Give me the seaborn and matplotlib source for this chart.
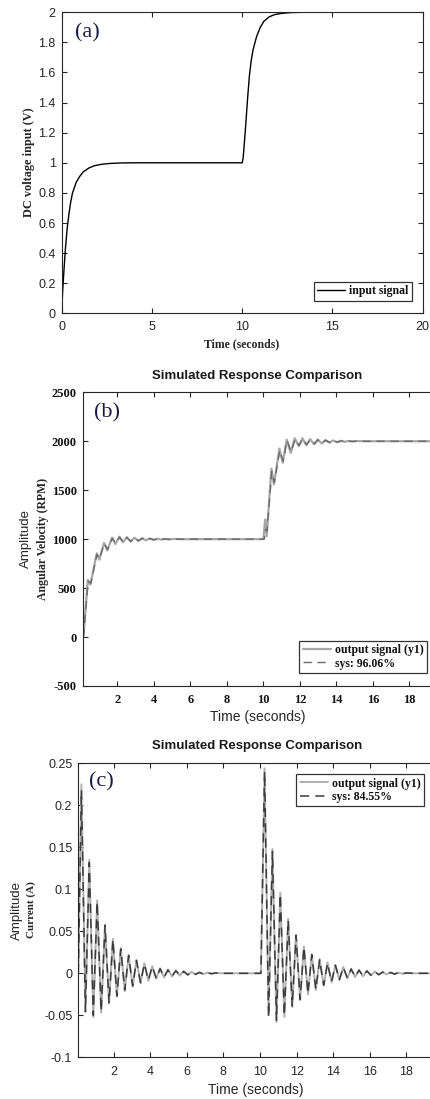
import numpy as np
import pandas as pd
import seaborn as sns
import matplotlib
matplotlib.use("Agg")
import matplotlib.pyplot as plt
from matplotlib.ticker import FuncFormatter

# ---- panel (a): DC voltage input ----
t_in = [0, 0.05, 0.1, 0.2, 0.3, 0.4, 0.5, 0.6, 0.8, 1.0, 1.2, 1.5, 1.8, 2.2, 2.7, 3.3, 4.0,
        10.0, 10.05, 10.1, 10.2, 10.3, 10.4, 10.5, 10.6, 10.8, 11.0, 11.2, 11.5, 11.8, 12.2,
        12.7, 13.3, 14.0, 20.0]
v_in = [0, 0.14, 0.24, 0.42, 0.56, 0.66, 0.74, 0.80, 0.87, 0.91, 0.94, 0.965, 0.98, 0.99,
        0.996, 0.999, 1.0,
        1.0, 1.03, 1.1, 1.26, 1.43, 1.58, 1.68, 1.75, 1.84, 1.9, 1.94, 1.97, 1.985, 1.993,
        1.998, 2.0, 2.0, 2.0]

# ---- panel (b): angular velocity ----
t_vel = [0.14, 0.38, 0.52, 0.87, 1.01, 1.27, 1.45, 1.71, 1.89, 2.11, 2.31, 2.51, 2.73, 2.93,
         3.15, 3.35, 3.56, 3.77, 3.98, 4.19, 4.40, 4.60, 4.81, 5.02, 5.5, 10.0,
         10.1, 10.18, 10.44, 10.58, 10.88, 11.06, 11.28, 11.5, 11.72, 11.94, 12.14, 12.35,
         12.56, 12.78, 12.98, 13.2, 13.4, 13.62, 13.82, 14.04, 14.24, 14.45, 14.66, 14.87,
         15.1, 15.6, 19.5]
vel_out = [0, 585, 535, 855, 790, 962, 885, 1015, 950, 1025, 968, 1020, 975, 1015,
           981, 1010, 988, 1007, 992, 1005, 995, 1003, 997, 1002, 1000, 1000,
           1200, 1030, 1720, 1560, 1925, 1780, 2017, 1881, 2030, 1950, 2030, 1960,
           2022, 1970, 2017, 1978, 2012, 1985, 2008, 1990, 2005, 1994, 2003, 1997,
           2002, 2000, 2000]
t_vel_sys = [0.14, 0.40, 0.55, 0.88, 1.02, 1.28, 1.46, 1.72, 1.9, 2.12, 2.32, 2.52, 2.74, 2.94,
             3.16, 3.36, 3.57, 3.78, 3.99, 4.2, 4.41, 4.61, 4.82, 5.03, 5.5, 10.05,
             10.12, 10.2, 10.46, 10.6, 10.9, 11.08, 11.3, 11.52, 11.74, 11.96, 12.16, 12.37,
             12.58, 12.8, 13.0, 13.22, 13.42, 13.64, 13.84, 14.06, 14.26, 14.47, 14.68, 14.89,
             15.12, 15.6, 19.5]
vel_sys = [0, 570, 550, 845, 800, 955, 895, 1010, 958, 1020, 972, 1016, 978, 1012,
           984, 1008, 990, 1006, 994, 1004, 996, 1002, 998, 1001, 1000, 1000,
           1100, 1080, 1690, 1580, 1905, 1800, 2005, 1895, 2020, 1958, 2024, 1965,
           2018, 1974, 2014, 1980, 2010, 1987, 2007, 1991, 2004, 1995, 2003, 1998,
           2001, 2000, 2000]

# ---- panel (c): current ----
t_cur = [0.07, 0.24, 0.46, 0.67, 0.89, 1.10, 1.32, 1.53, 1.75, 1.96,
         2.18, 2.39, 2.61, 2.82, 3.04, 3.25, 3.47, 3.68, 3.90, 4.11,
         4.33, 4.54, 4.76, 4.97, 5.19, 5.40, 5.62, 5.83, 6.05, 6.26,
         6.48, 6.69, 6.91, 7.12, 7.34, 7.55, 8.0, 10.05,
         10.25, 10.47, 10.68, 10.90, 11.11, 11.33, 11.54, 11.76, 11.97, 12.19,
         12.40, 12.62, 12.83, 13.05, 13.26, 13.48, 13.69, 13.91, 14.12, 14.34,
         14.55, 14.77, 14.98, 15.20, 15.41, 15.63, 15.84, 16.06, 16.27, 16.49,
         16.70, 16.92, 17.13, 17.35, 17.56, 17.78, 17.99, 18.4, 19.5]
cur_out = [0, 0.225, -0.044, 0.135, -0.052, 0.087, -0.047, 0.058, -0.036, 0.041,
           -0.028, 0.030, -0.021, 0.022, -0.016, 0.016, -0.012, 0.012, -0.009, 0.0085,
           -0.0065, 0.006, -0.005, 0.0045, -0.0038, 0.0035, -0.0028, 0.0025, -0.002, 0.0018,
           -0.0014, 0.0012, -0.001, 0.0008, -0.0006, 0.0004, 0, 0,
           0.244, -0.050, 0.148, -0.058, 0.096, -0.052, 0.065, -0.040, 0.046, -0.032,
           0.032, -0.025, 0.023, -0.020, 0.017, -0.015, 0.013, -0.011, 0.010, -0.008,
           0.0075, -0.006, 0.0055, -0.0045, 0.004, -0.0035, 0.003, -0.0025, 0.0022, -0.0018,
           0.0016, -0.0013, 0.0011, -0.0009, 0.0008, -0.0006, 0.0005, 0, 0]
cur_sys = [0, 0.218, -0.046, 0.132, -0.050, 0.085, -0.045, 0.057, -0.035, 0.040,
           -0.027, 0.029, -0.020, 0.021, -0.015, 0.015, -0.011, 0.011, -0.008, 0.008,
           -0.006, 0.0055, -0.0045, 0.004, -0.0035, 0.003, -0.0025, 0.0022, -0.0018, 0.0016,
           -0.0012, 0.001, -0.0008, 0.0007, -0.0005, 0.0003, 0, 0,
           0.240, -0.052, 0.145, -0.056, 0.094, -0.050, 0.063, -0.039, 0.045, -0.031,
           0.031, -0.024, 0.022, -0.019, 0.016, -0.014, 0.012, -0.010, 0.0095, -0.0075,
           0.007, -0.0055, 0.005, -0.004, 0.0037, -0.0032, 0.0028, -0.0023, 0.002, -0.0016,
           0.0014, -0.0012, 0.001, -0.0008, 0.0007, -0.0005, 0.0004, 0, 0]

title_txt = "Simulated Response Comparison"
fit_vel = "sys: 96.06%"
fit_cur = "sys: 84.55%"

sns.set_style("ticks")
plt.rcParams["font.family"] = ["Liberation Sans", "DejaVu Sans"]
plt.rcParams["axes.unicode_minus"] = False
SERIF = ["Liberation Serif", "DejaVu Serif"]
W, H = 430, 1099

fig = plt.figure(figsize=(W / 100, H / 100), dpi=100)


def add_axes(left, top, right, bottom):
    return fig.add_axes([left / W, 1 - bottom / H, (right - left) / W, (bottom - top) / H])


def ftext(x, y, s, **kw):
    fig.text(x / W, 1 - y / H, s, ha="center", va="center", **kw)


def style_axes(ax, xpad, ypad, right=True):
    ax.tick_params(direction="in", top=True, right=right, length=3.5, width=0.8,
                   colors="#262626", labelsize=9)
    ax.tick_params(axis="x", pad=xpad)
    ax.tick_params(axis="y", pad=ypad)
    for s in ax.spines.values():
        s.set_color("#262626")
        s.set_linewidth(0.8)
    ax.set_xlabel("")
    ax.set_ylabel("")


def add_legend(ax, loc, anchor):
    leg = ax.legend(loc=loc, bbox_to_anchor=anchor, borderaxespad=0, fancybox=False,
                    framealpha=1, edgecolor="#333333", handlelength=2.4, handletextpad=0.3,
                    borderpad=0.3, labelspacing=0.1,
                    prop={"family": SERIF, "weight": "bold", "size": 8.5})
    leg.get_frame().set_linewidth(0.9)
    for t in leg.get_texts():
        t.set_color("#111111")


fmt = FuncFormatter(lambda v, p: "%g" % round(v, 4))

# (a)
ax_a = add_axes(61.7, 12.3, 422.7, 313.3)
sns.lineplot(x=t_in, y=v_in, ax=ax_a, color="black", linewidth=1.0, label="input signal")
ax_a.set_xlim(0, 20)
ax_a.set_ylim(0, 2)
ax_a.set_xticks([0, 5, 10, 15, 20])
ax_a.set_yticks(np.arange(0, 2.01, 0.2))
ax_a.yaxis.set_major_formatter(fmt)
style_axes(ax_a, 5.5, 4.3)
add_legend(ax_a, "lower right", (0.970, 0.041))
ftext(29, 162, "DC voltage input (V)", rotation=90, family=SERIF, weight="bold", size=8.8)
ftext(242, 344, "Time (seconds)", family=SERIF, weight="bold", size=8.5)
ftext(87, 33, "(a)", family=SERIF, size=16, color="#1c1c40")

# (b)
ax_b = add_axes(82.7, 392.3, 434, 686)
sns.lineplot(x=t_vel, y=vel_out, ax=ax_b, color="#a6a6a6", linewidth=1.6,
             label="output signal (y1)")
sns.lineplot(x=t_vel_sys, y=vel_sys, ax=ax_b, color="#6a6a6a", linewidth=1.0,
             linestyle=(0, (6, 4)), label=fit_vel)
ax_b.set_xlim(0.1, 19.35)
ax_b.set_ylim(-500, 2500)
ax_b.set_xticks(range(2, 19, 2))
ax_b.set_yticks(range(-500, 2501, 500))
style_axes(ax_b, 5.5, 4.3, right=False)
for lbl in ax_b.get_xticklabels() + ax_b.get_yticklabels():
    lbl.set_fontfamily(SERIF)
    lbl.set_fontweight("bold")
    lbl.set_color("#111111")
add_legend(ax_b, "lower right", (0.980, 0.044))
ftext(257, 376, title_txt, weight="bold", size=9.5, color="#1a1a1a")
ftext(26, 539, "Amplitude", rotation=90, size=9.5, color="#262626")
ftext(43, 539, "Angular Velocity (RPM)", rotation=90, family=SERIF, weight="bold", size=8.5)
ftext(258, 717, "Time (seconds)", size=10, color="#262626")
ftext(107, 413, "(b)", family=SERIF, size=16, color="#1c1c40")

# (c)
ax_c = add_axes(78.3, 763.3, 432, 1057.3)
sns.lineplot(x=t_cur, y=cur_out, ax=ax_c, color="#b0b0b0", linewidth=1.4,
             label="output signal (y1)")
sns.lineplot(x=t_cur, y=cur_sys, ax=ax_c, color="#3c3c3c", linewidth=1.1,
             linestyle=(0, (6, 4)), label=fit_cur)
ax_c.set_xlim(0.07, 19.4)
ax_c.set_ylim(-0.1, 0.25)
ax_c.set_xticks(range(2, 19, 2))
ax_c.set_yticks(np.arange(-0.1, 0.251, 0.05))
ax_c.yaxis.set_major_formatter(fmt)
style_axes(ax_c, 6.0, 4.3, right=False)
add_legend(ax_c, "upper right", (0.977, 0.9636))
ftext(257, 746, title_txt, weight="bold", size=9.5, color="#1a1a1a")
ftext(17, 910, "Amplitude", rotation=90, size=9.5, color="#262626")
ftext(31, 910, "Current (A)", rotation=90, family=SERIF, weight="bold", size=8)
ftext(256, 1090, "Time (seconds)", size=10, color="#262626")
ftext(101, 782, "(c)", family=SERIF, size=16, color="#1c1c40")

fig.savefig("out.png", dpi=100)
